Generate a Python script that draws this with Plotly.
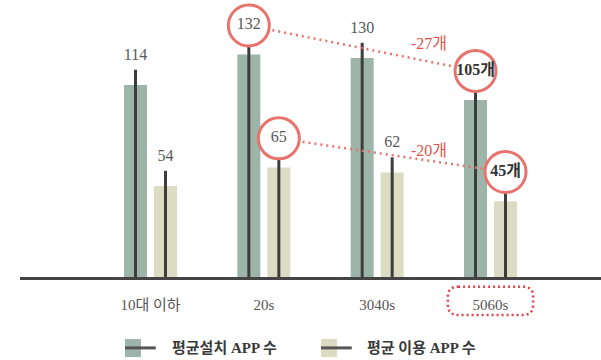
import numpy as np
import plotly.graph_objects as go

# data
categories = ["10대 이하", "20s", "3040s", "5060s"]
installed = [114, 132, 130, 105]
used = [54, 65, 62, 45]
series_names = ["평균설치 APP 수", "평균 이용 APP 수"]
highlight_from = 1   # 20s
highlight_to = 3     # 5060s

# styling
GREEN = '#9db4a9'
BEIGE = '#dcdbc3'
DARK = '#3d3d3d'
RED = '#e8736c'
RED_TXT = '#e4514d'
FONT = "Liberation Serif, Noto Sans CJK KR"

half = 0.1324       # offset of each bar from category centre
bar_w = 0.203
stem = 9            # how far the dark line sticks out above the bar
lift = 8.3          # from stem top to label centre

x_idx = np.arange(len(categories))

fig = go.Figure()

for i, (vals, col) in enumerate([(installed, GREEN), (used, BEIGE)]):
    xs = x_idx - half if i == 0 else x_idx + half
    fig.add_trace(go.Bar(
        x=xs, y=vals, width=bar_w, marker_color=col, marker_line_width=0,
        name=series_names[i],
        error_y=dict(type='data', symmetric=False, array=[stem] * len(vals),
                     arrayminus=vals, thickness=3, width=0, color=DARK),
    ))

# dotted connectors + circles
for i, vals in enumerate([installed, used]):
    xs = x_idx - half if i == 0 else x_idx + half
    pts_x = [xs[highlight_from], xs[highlight_to]]
    pts_y = [vals[highlight_from] + stem + lift, vals[highlight_to] + stem + lift]
    fig.add_trace(go.Scatter(
        x=pts_x, y=pts_y, mode='lines',
        line=dict(color=RED, width=2.5, dash='2px,4px'),
        hoverinfo='skip'))
    fig.add_trace(go.Scatter(
        x=pts_x, y=pts_y, mode='markers',
        marker=dict(symbol='circle', size=41, color='white',
                    line=dict(color=RED, width=3)),
        hoverinfo='skip'))
    diff = vals[highlight_to] - vals[highlight_from]
    fig.add_annotation(
        x=2.455, y=(pts_y[0] + pts_y[1]) / 2 + 3, xref='x', yref='y',
        text=f"{diff}개", showarrow=False,
        font=dict(family=FONT, size=16, color=RED_TXT))

# value labels
for i, vals in enumerate([installed, used]):
    xs = x_idx - half if i == 0 else x_idx + half
    texts, cols = [], []
    for j, v in enumerate(vals):
        if j == highlight_to:
            texts.append(f"<b>{v}개</b>")
            cols.append('#333333')
        else:
            texts.append(str(v))
            cols.append('#595959')
    fig.add_trace(go.Scatter(
        x=xs, y=[v + stem + lift for v in vals], mode='text',
        text=texts, textposition='middle center',
        textfont=dict(family=FONT, size=16, color=cols),
        hoverinfo='skip'))

fig.update_layout(
    width=601, height=360,
    margin=dict(l=20, r=0, t=0, b=83),
    plot_bgcolor='white', paper_bgcolor='white',
    showlegend=False, barmode='overlay',
    font=dict(family=FONT, color='#555555'),
)
fig.update_xaxes(range=[-1.1515, 3.975], tickvals=list(x_idx), ticktext=categories,
                 showgrid=False, zeroline=False, showline=True, linewidth=3,
                 linecolor='#444444', ticks='', ticklabelstandoff=12,
                 tickfont=dict(family=FONT, size=15, color='#555555'))
fig.update_yaxes(range=[0, 164.4], visible=False)

# dotted rounded box round the highlighted category
cx = x_idx[highlight_to]
x0, x1 = cx - 0.376, cx + 0.376
y0, y1 = -0.137, -0.035
rx, ry = 0.09, 0.036
box = (f"M {x0+rx},{y1} L {x1-rx},{y1} Q {x1},{y1} {x1},{y1-ry} "
       f"L {x1},{y0+ry} Q {x1},{y0} {x1-rx},{y0} L {x0+rx},{y0} "
       f"Q {x0},{y0} {x0},{y0+ry} L {x0},{y1-ry} Q {x0},{y1} {x0+rx},{y1} Z")
fig.add_shape(type='path', path=box, xref='x', yref='paper',
              line=dict(color='#e0414a', width=2.5, dash='2px,3px'))

# legend drawn by hand
for col, sx, tx, name in [(GREEN, 0.1807, 0.2582, series_names[0]),
                          (BEIGE, 0.518, 0.594, series_names[1])]:
    fig.add_shape(type='rect', xref='paper', yref='paper',
                  x0=sx, x1=sx + 0.0275, y0=-0.289, y1=-0.224,
                  fillcolor=col, line_width=0)
    fig.add_shape(type='line', xref='paper', yref='paper',
                  x0=sx, x1=sx + 0.053, y0=-0.256, y1=-0.256,
                  line=dict(color='#555555', width=3))
    fig.add_annotation(x=tx, y=-0.256, xref='paper', yref='paper',
                       xanchor='left', yanchor='middle', showarrow=False,
                       text=f"<b>{name}</b>",
                       font=dict(family=FONT, size=15, color='#3a3a3a'))

# page body has a default margin; drop it so the figure sits at the corner
fig.write_html("out.html", config={'displayModeBar': False},
               post_script="document.body.style.margin='0';")
